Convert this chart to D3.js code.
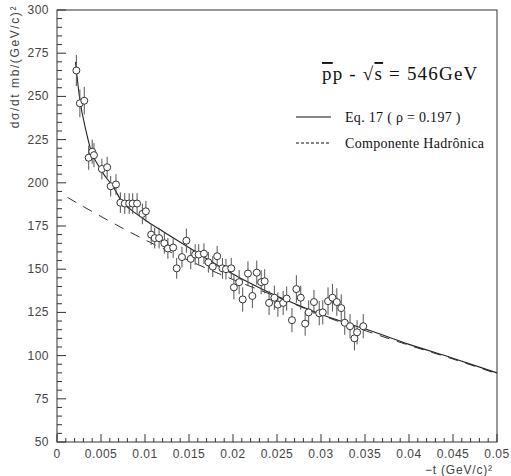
<!DOCTYPE html>
<html lang="en">
<head>
  <meta charset="UTF-8">
  <title>pbar p elastic scattering 546 GeV</title>
  <!--Import d3-->
  <script src="https://d3js.org/d3.v7.min.js"></script>
</head>
<style>
  body{
    margin:0;
    background:white;
  }
  .tick-label{
    font-family: "Liberation Sans", Arial, sans-serif;
    font-size: 12px;
    fill: #444;
    letter-spacing: 0.5px;
  }
  .axis-title{
    font-family: "Liberation Sans", Arial, sans-serif;
    font-size: 12px;
    fill: #444;
    letter-spacing: 1.6px;
  }
  .legend{
    font-family: "Liberation Serif", "Times New Roman", serif;
    fill: #111;
  }
</style>
<body>
  <div id="chart"></div>
</body>
<script>
// measured points: -t (GeV/c)^2, dsigma/dt (mb/(GeV/c)^2), error
var tVals = [0.0022,0.0026,0.0031,0.0036,0.0040,0.0042,0.0051,0.0057,0.0061,0.0067,
             0.0072,0.0077,0.0082,0.0086,0.0091,0.0097,0.0101,0.0107,0.0111,0.0116,
             0.0122,0.0126,0.0132,0.0136,0.0142,0.0147,0.0152,0.0157,0.0161,0.0167,
             0.0172,0.0177,0.0182,0.0188,0.0192,0.0198,0.0201,0.0207,0.0211,0.0217,
             0.0222,0.0227,0.0232,0.0236,0.0241,0.0247,0.0251,0.0257,0.0261,0.0267,
             0.0272,0.0277,0.0282,0.0286,0.0292,0.0298,0.0302,0.0308,0.0313,0.0318,
             0.0323,0.0327,0.0333,0.0338,0.0341,0.0348];
var sigVals = [265,246,247.5,214.5,218,216,208,209,198,199,
               188.5,188,188,188,188,182,183.5,170,168,168,
               165,162,162.5,150.5,157,166.5,156,158.5,158.5,159,
               154,151.5,157.5,150.5,150,150.5,139.5,142.5,132.5,147.5,
               134.5,148,142.5,143,130.5,133.5,129.5,130.5,133,120.5,
               138.5,133.5,118.5,125,131,124.5,125,131.5,133.5,131,
               127.5,119,117,110,113.5,117];
var errVals = [9,8,8,7,7,7,6,6,6,6,
               6,6,6,6,6,6,6,6,6,6,
               6,6,6,6,6,7,6,6,6,6,
               6,6,6,6,6,6,7,7,7,7,
               7,7,7,7,7,7,7,7,7,7,
               8,7,7,7,7,7,7,8,8,8,
               8,7,7,7,7,7];

// curves
var fitT = [0.0021,0.0026,0.0033,0.0039,0.0047,0.0053,0.0064,0.0074,0.0085,0.010,
            0.012,0.0153,0.019,0.0235,0.028,0.031,0.035,0.040,0.045,0.050];
var fitV = [270,248,230,218,210,205,197.5,189,184,178.5,
            172,161.5,150,138,128,122,115.5,106.5,98.5,90];
var hadT = [0.0012,0.005,0.010,0.015,0.020,0.025,0.030,0.035,0.040,0.045,0.050];
var hadV = [191.5,180.5,167,155,144,134,123.5,114.5,106,98,89.5];

var xTicks = [0,0.005,0.01,0.015,0.02,0.025,0.03,0.035,0.04,0.045,0.05];
var xTickLabels = ["0","0.005","0.01","0.015","0.02","0.025","0.03","0.035","0.04","0.045","0.05"];
var yTicks = [50,75,100,125,150,175,200,225,250,275,300];

var width = 511, height = 476;
var mLeft = 57, mRight = 497, mTop = 10, mBottom = 442;

var svg = d3.select("#chart").append("svg")
  .attr("width", width)
  .attr("height", height);

var xScale = d3.scaleLinear().domain([0,0.05]).range([mLeft,mRight]);
var yScale = d3.scaleLinear().domain([50,300]).range([mBottom,mTop]);

var ink = "#333";

// frame
svg.append("rect")
  .attr("x", mLeft).attr("y", mTop)
  .attr("width", mRight-mLeft).attr("height", mBottom-mTop)
  .attr("fill","none").attr("stroke", ink).attr("stroke-width",1);

// x axis ticks (pointing inward)
var xMinor = d3.range(0, 51).map(function(i){return i*0.001;});
svg.append("g").selectAll("line").data(xMinor).enter().append("line")
  .attr("x1", function(d){return xScale(d);})
  .attr("x2", function(d){return xScale(d);})
  .attr("y1", mBottom)
  .attr("y2", function(d,i){return (i%5==0) ? mBottom-8 : mBottom-4;})
  .attr("stroke", ink);
svg.append("g").selectAll("text").data(xTicks).enter().append("text")
  .attr("class","tick-label")
  .attr("x", function(d){return xScale(d);})
  .attr("y", 458)
  .attr("text-anchor","middle")
  .text(function(d,i){return xTickLabels[i];});

// y axis ticks
var yMinor = d3.range(50, 301, 5);
svg.append("g").selectAll("line").data(yMinor).enter().append("line")
  .attr("y1", function(d){return yScale(d);})
  .attr("y2", function(d){return yScale(d);})
  .attr("x1", mLeft)
  .attr("x2", function(d){return (d%25==0) ? mLeft+9 : mLeft+5;})
  .attr("stroke", ink);
svg.append("g").selectAll("text").data(yTicks).enter().append("text")
  .attr("class","tick-label")
  .attr("x", 49)
  .attr("y", function(d){return yScale(d)+4;})
  .attr("text-anchor","end")
  .text(function(d){return d;});

// axis titles
svg.append("text")
  .attr("class","axis-title")
  .attr("transform","translate(19,5) rotate(-90)")
  .attr("text-anchor","end")
  .text("d\u03C3/dt  mb/(GeV/c)\u00B2");
svg.append("text")
  .attr("class","axis-title")
  .attr("x", 425).attr("y", 474)
  .style("letter-spacing","0.8px")
  .text("\u2212t   (GeV/c)\u00B2");

// curves
var line = d3.line()
  .x(function(d){return xScale(d[0]);})
  .y(function(d){return yScale(d[1]);})
  .curve(d3.curveMonotoneX);

svg.append("path")
  .datum(hadT.map(function(t,i){return [t, hadV[i]];}))
  .attr("d", line)
  .attr("fill","none").attr("stroke", ink).attr("stroke-width",1)
  .attr("stroke-dasharray","10,8");

svg.append("path")
  .datum(fitT.map(function(t,i){return [t, fitV[i]];}))
  .attr("d", line)
  .attr("fill","none").attr("stroke", "#222").attr("stroke-width",1.1);

// error bars
var pts = tVals.map(function(t,i){return {t:t, v:sigVals[i], e:errVals[i]};});
svg.append("g").selectAll("line").data(pts).enter().append("line")
  .attr("x1", function(d){return xScale(d.t);})
  .attr("x2", function(d){return xScale(d.t);})
  .attr("y1", function(d){return yScale(d.v + d.e);})
  .attr("y2", function(d){return yScale(d.v - d.e);})
  .attr("stroke", "#555").attr("stroke-width",1);

// data points
svg.append("g").selectAll("circle").data(pts).enter().append("circle")
  .attr("cx", function(d){return xScale(d.t);})
  .attr("cy", function(d){return yScale(d.v);})
  .attr("r", 3.5)
  .attr("fill","white").attr("stroke", ink).attr("stroke-width",1);

// legend
var title = svg.append("text")
  .attr("class","legend")
  .attr("x", 322).attr("y", 80)
  .attr("font-size","19px")
  .style("letter-spacing","1.2px");
title.append("tspan").style("text-decoration","overline").text("p");
title.append("tspan").text("p  -  \u221A");
title.append("tspan").style("text-decoration","overline").text("s");
title.append("tspan").text(" = 546GeV");

svg.append("line")
  .attr("x1", 296).attr("x2", 331).attr("y1", 117).attr("y2", 117)
  .attr("stroke","#111").attr("stroke-width",1.2);
svg.append("text")
  .attr("class","legend")
  .attr("x", 345).attr("y", 122)
  .attr("font-size","14px")
  .style("letter-spacing","0.3px")
  .text("Eq. 17 ( \u03C1 = 0.197 )");

svg.append("line")
  .attr("x1", 296).attr("x2", 331).attr("y1", 143).attr("y2", 143)
  .attr("stroke","#111").attr("stroke-width",1)
  .attr("stroke-dasharray","3,2");
svg.append("text")
  .attr("class","legend")
  .attr("x", 345).attr("y", 148)
  .attr("font-size","14px")
  .style("letter-spacing","0.3px")
  .text("Componente Hadr\u00F4nica");
</script>
</html>
